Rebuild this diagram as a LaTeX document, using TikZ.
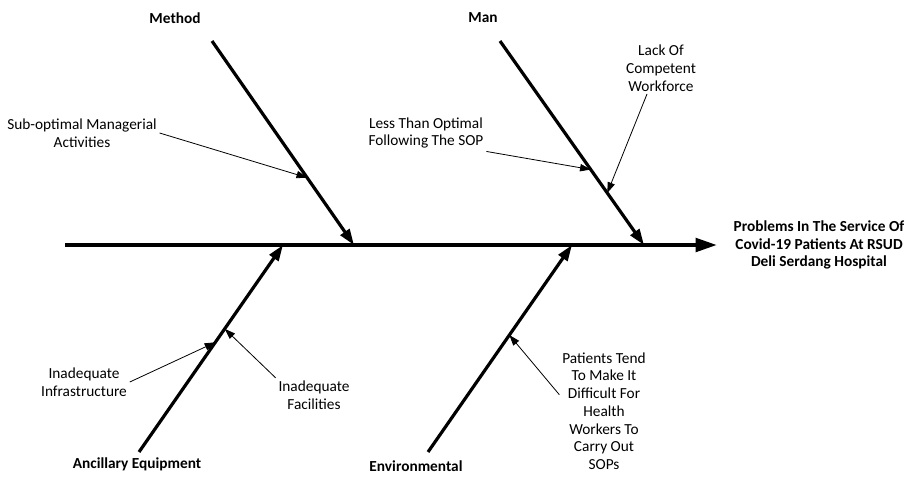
\documentclass[tikz,border=0pt]{standalone}
\usepackage{fontspec}
\setmainfont{Carlito}
\usetikzlibrary{arrows.meta,calc}
\tikzset{
  spine/.style={line width=3pt,-{Triangle[length=16pt,width=10pt]}},
  bone/.style={line width=2.4pt,-{Triangle[length=12pt,width=8pt]}},
  cause/.style={line width=0.6pt,-{Triangle[length=8pt,width=5.5pt]}},
  lbl/.style={align=center,inner sep=2pt,font=\fontsize{11.5}{13.3}\selectfont},
  cat/.style={font=\fontsize{11.5}{13.3}\selectfont\bfseries,inner sep=1pt}
}
\begin{document}
\begin{tikzpicture}[x=0.75pt,y=-0.75pt]
    \useasboundingbox (0,0) rectangle (909,476);
    % Spine of the fish
    \coordinate (S0) at (65,245); % Tail
    \coordinate (S1) at (717,245); % Head
    % Bones (start and end)
    \coordinate (MT) at (212,41);  % Method top
    \coordinate (MB) at (354,245); % Method on spine
    \coordinate (NT) at (500,41);  % Man top
    \coordinate (NB) at (644,245); % Man on spine
    \coordinate (AT) at (139,452); % Ancillary bottom
    \coordinate (AB) at (283,245); % Ancillary on spine
    \coordinate (ET) at (428,452); % Environmental bottom
    \coordinate (EB) at (572,245); % Environmental on spine
    \draw[spine] (S0) -- (S1);
    \draw[bone] (MT) -- (MB) coordinate[pos=0.67] (M1);
    \draw[bone] (NT) -- (NB) coordinate[pos=0.63] (N1) coordinate[pos=0.745] (N2);
    \draw[bone] (AT) -- (AB) coordinate[pos=0.53] (A1) coordinate[pos=0.595] (A2);
    \draw[bone] (ET) -- (EB) coordinate[pos=0.565] (E1);
    % Categories and effect
    \node[cat] (method) at (175,18) {Method};
    \node[cat] (man) at (483,18) {Man};
    \node[cat] (ancil) at (137,464) {Ancillary Equipment};
    \node[cat] (envir) at (416,466) {Environmental};
    \node[cat,align=center] (effect) at (819,245) {Problems In The Service Of\\Covid-19 Patients At RSUD\\Deli Serdang Hospital};
    % Causes
    \node[lbl] (subopt) at (82,133) {Sub-optimal Managerial\\Activities};
    \node[lbl] (lessopt) at (426,133) {Less Than Optimal\\Following The SOP};
    \node[lbl] (lack) at (661,68) {Lack Of\\Competent\\Workforce};
    \node[lbl] (infra) at (84,382) {Inadequate\\Infrastructure};
    \node[lbl] (facil) at (314,395) {Inadequate\\Facilities};
    \node[lbl] (patient) at (604,411) {Patients Tend\\To Make It\\Difficult For\\Health\\Workers To\\Carry Out\\SOPs};
    \draw[cause] (subopt.east) -- (M1);
    \draw[cause] (lessopt.south east) -- (N1);
    \draw[cause] (lack.south) ++(-14,0) -- (N2);
    \draw[cause] (infra.east) -- (A1);
    \draw[cause] (facil.north west) -- (A2);
    \draw[cause] (patient.160) -- (E1);
\end{tikzpicture}
\end{document}
